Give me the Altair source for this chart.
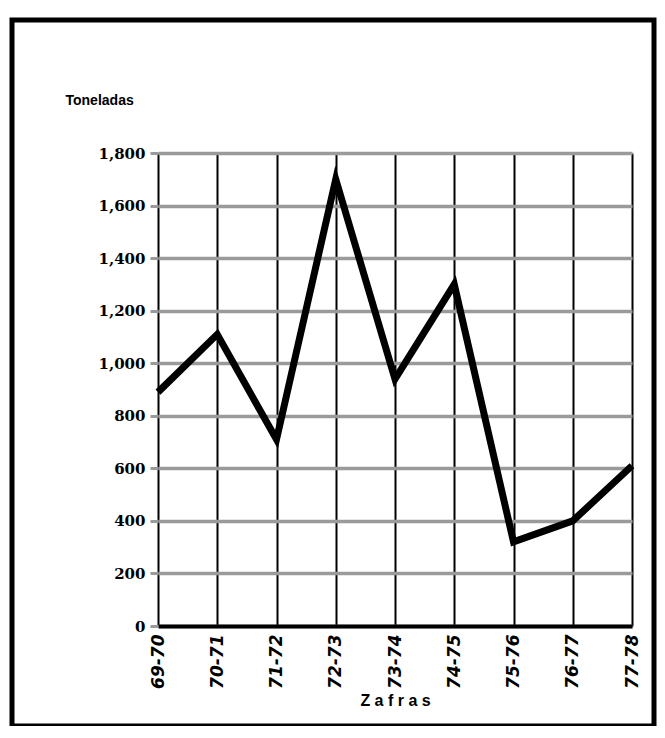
import altair as alt
import pandas as pd

zafras = ["69-70", "70-71", "71-72", "72-73", "73-74", "74-75", "75-76", "76-77", "77-78"]
toneladas = [890, 1110, 710, 1700, 940, 1300, 320, 400, 610]
y_ticks = [0, 200, 400, 600, 800, 1000, 1200, 1400, 1600, 1800]

df = pd.DataFrame({"Zafra": zafras, "Toneladas": toneladas})

W, H = 474, 473

line = alt.Chart(df).mark_line(color="black", strokeWidth=7, strokeJoin="miter").encode(
    x=alt.X(
        "Zafra:N",
        sort=zafras,
        scale=alt.Scale(type="point", padding=0),
        axis=alt.Axis(
            title="Z a f r a s",
            labelAngle=270,
            grid=True,
            gridColor="black",
            gridWidth=2,
            domainColor="black",
            domainWidth=4,
            ticks=False,
            labelPadding=8,
            labelFont="DejaVu Sans",
            labelFontWeight="bold",
            labelFontStyle="italic",
            labelFontSize=17,
            labelColor="black",
            titleFont="Liberation Sans",
            titleFontSize=16,
            titleFontWeight="bold",
            titleColor="black",
            titleY=74,
            titleBaseline="middle",
        ),
    ),
    y=alt.Y(
        "Toneladas:Q",
        scale=alt.Scale(domain=[0, 1800], nice=False),
        axis=alt.Axis(
            values=y_ticks,
            format=",d",
            grid=True,
            gridColor="#9a9a9a",
            gridWidth=3.5,
            domain=False,
            tickColor="#9a9a9a",
            tickWidth=3,
            tickSize=8,
            labelFont="DejaVu Serif",
            labelFontWeight="bold",
            labelFontSize=15,
            labelColor="black",
            labelPadding=5,
            title="Toneladas",
            titleAngle=0,
            titleX=-93,
            titleY=-53,
            titleAlign="left",
            titleBaseline="middle",
            titleFont="Liberation Sans",
            titleFontSize=14,
            titleFontWeight="bold",
            titleColor="black",
        ),
    ),
)

frame = alt.Chart(alt.Data(values=[{"a": 1}])).mark_rect(
    fillOpacity=0, stroke="black", strokeWidth=5
).encode(
    x=alt.value(-146), x2=alt.value(496), y=alt.value(-133), y2=alt.value(573)
)

chart = alt.layer(frame, line).properties(
    width=W,
    height=H,
    autosize=alt.AutoSizeParams(type="none"),
    padding={"left": 150, "top": 145, "right": 25, "bottom": 100},
).configure_view(stroke=None)

chart.save("out.html", embed_options={"renderer": "svg", "actions": False})
